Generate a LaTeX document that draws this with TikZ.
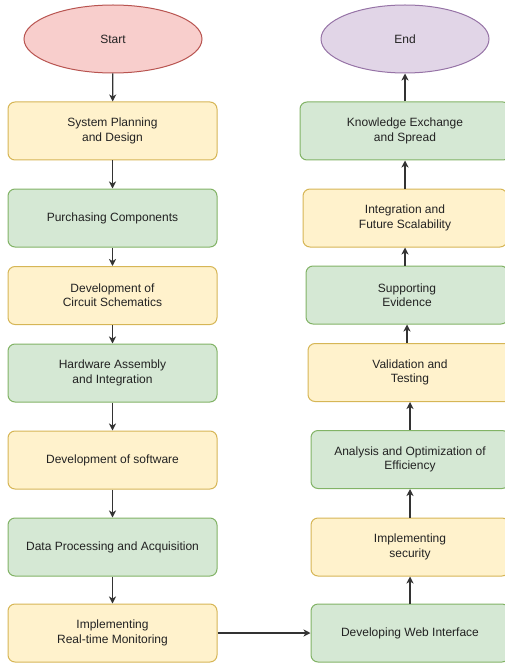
\documentclass[tikz,border=0pt]{standalone}
\usepackage{fontspec}
\setmainfont{Liberation Sans}
\usetikzlibrary{arrows.meta,shapes.geometric}
\definecolor{yfill}{HTML}{FFF2CC}
\definecolor{ydraw}{HTML}{D6B656}
\definecolor{gfill}{HTML}{D5E8D4}
\definecolor{gdraw}{HTML}{82B366}
\definecolor{rfill}{HTML}{F8CECC}
\definecolor{rdraw}{HTML}{B85450}
\definecolor{pfill}{HTML}{E1D5E7}
\definecolor{pdraw}{HTML}{9673A6}
\definecolor{txt}{HTML}{222222}
\tikzset{
  base/.style={align=center, inner sep=0pt, line width=1pt, text=txt,
    font=\fontsize{12}{14.3}\selectfont, minimum height=58pt},
  ybox/.style={base, rectangle, rounded corners=7pt, fill=yfill, draw=ydraw},
  gbox/.style={base, rectangle, rounded corners=7pt, fill=gfill, draw=gdraw},
  startell/.style={base, ellipse, fill=rfill, draw=rdraw, minimum width=178pt, minimum height=68pt},
  endell/.style={base, ellipse, fill=pfill, draw=pdraw, minimum width=168pt, minimum height=68pt},
  arr/.style={-{Stealth[length=7pt,width=7pt,inset=2pt]}, line width=1.2pt, draw=black!80}
}
\begin{document}
\begin{tikzpicture}[x=1pt,y=-1pt]
\useasboundingbox (0,0) rectangle (505,663);
% left column
\node[startell] (start) at (113,39) {Start};
\node[ybox, minimum width=209pt] (sp) at (112.5,131) {System Planning\\and Design};
\node[gbox, minimum width=209pt] (pc) at (112.5,218) {Purchasing Components};
\node[ybox, minimum width=209pt] (cs) at (112.5,295.5) {Development of\\Circuit Schematics};
\node[gbox, minimum width=209pt] (ha) at (112.5,373) {Hardware Assembly\\and Integration};
\node[ybox, minimum width=209pt] (sw) at (112.5,460) {Development of software};
\node[gbox, minimum width=209pt] (dp) at (112.5,547) {Data Processing and Acquisition};
\node[ybox, minimum width=209pt] (rt) at (112.5,633) {Implementing\\Real-time Monitoring};
% right column
\node[endell] (end) at (405,39) {End};
\node[gbox, minimum width=210pt] (ke) at (405,131) {Knowledge Exchange\\and Spread};
\node[ybox, minimum width=204pt] (fs) at (405,218) {Integration and\\Future Scalability};
\node[gbox, minimum width=202pt] (se) at (407,295) {Supporting\\Evidence};
\node[ybox, minimum width=204pt] (vt) at (410,372.5) {Validation and\\Testing};
\node[gbox, minimum width=198pt] (ao) at (410,459.5) {Analysis and Optimization of\\Efficiency};
\node[ybox, minimum width=198pt] (is) at (410,547) {Implementing\\security};
\node[gbox, minimum width=198pt] (wi) at (410,633) {Developing Web Interface};
% connectors
\draw[arr] (start) -- (sp);
\draw[arr] (sp) -- (pc);
\draw[arr] (pc) -- (cs);
\draw[arr] (cs) -- (ha);
\draw[arr] (ha) -- (sw);
\draw[arr] (sw) -- (dp);
\draw[arr] (dp) -- (rt);
\draw[arr] (rt) -- (wi);
\draw[arr] (wi) -- (is);
\draw[arr] (is) -- (ao);
\draw[arr] (ao) -- (vt);
\draw[arr] (vt.north -| se.south) -- (se.south);
\draw[arr] (se.north -| fs.south) -- (fs.south);
\draw[arr] (fs) -- (ke);
\draw[arr] (ke) -- (end);
\end{tikzpicture}
\end{document}
